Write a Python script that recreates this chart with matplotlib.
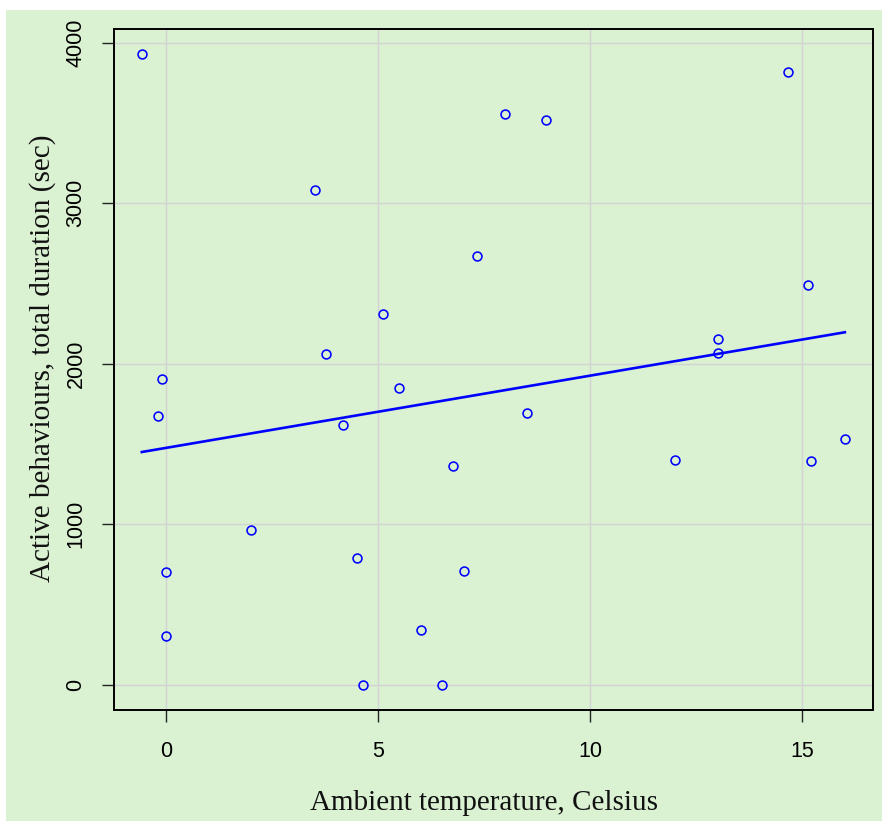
import numpy as np
import matplotlib
matplotlib.use("Agg")
import matplotlib.pyplot as plt
from matplotlib.patches import Rectangle

# Data
temperature = [-0.57, -0.09, -0.19, 0.0, 0.0, 2.01, 3.50, 3.76, 4.17, 4.50,
               4.65, 5.11, 5.49, 6.01, 6.50, 6.76, 7.02, 7.34, 7.98, 8.95,
               8.50, 11.99, 13.0, 13.0, 14.67, 15.13, 15.19, 16.0]
duration = [3929, 1907, 1676, 700, 306, 966, 3081, 2063, 1618, 787,
            0, 2311, 1847, 342, 0, 1362, 710, 2671, 3554, 3519,
            1695, 1403, 2157, 2065, 3818, 2490, 1395, 1530]
x_ticks = [0, 5, 10, 15]
y_ticks = [0, 1000, 2000, 3000, 4000]
x_label = "Ambient temperature, Celsius"
y_label = "Active behaviours, total duration (sec)"

BG = "#DAF2D2"
W, H = 882, 821
fig = plt.figure(figsize=(W / 100, H / 100), dpi=100)
fig.patch.set_facecolor("white")
fig.patches.append(Rectangle((6 / W, 0), 1 - 6 / W, 1 - 10 / H,
                             transform=fig.transFigure, facecolor=BG,
                             edgecolor="none", zorder=-10))

left, right, top, bottom = 113.7, 873, 29, 710
ax = fig.add_axes([left / W, 1 - bottom / H, (right - left) / W, (bottom - top) / H])
ax.set_facecolor(BG)

x = np.array(temperature)
y = np.array(duration)
xr = x.max() - x.min()
yr = y.max() - y.min()
ax.set_xlim(x.min() - 0.04 * xr, x.max() + 0.04 * xr)
ax.set_ylim(y.min() - 0.04 * yr, y.max() + 0.04 * yr)

ax.set_xticks(x_ticks)
ax.set_yticks(y_ticks)
ax.grid(True, color="#D3D3D3", linewidth=1.0, zorder=0)
ax.set_axisbelow(True)

ax.plot(x, y, linestyle="none", marker="o", markersize=6.4, markerfacecolor="none",
        markeredgecolor="blue", markeredgewidth=1.15, zorder=3)

slope, intercept = np.polyfit(x, y, 1)
xs = np.array([x.min(), x.max()])
ax.plot(xs, intercept + slope * xs, color="blue", linewidth=1.9, zorder=4)

for s in ax.spines.values():
    s.set_linewidth(1.4)
    s.set_color("black")

tick_font = {"family": ["Liberation Sans", "DejaVu Sans"], "size": 15.5}
ax.tick_params(axis="both", direction="out", length=8.6, width=1.0, color="#222222")
ax.tick_params(axis="x", pad=13.5)
ax.tick_params(axis="y", pad=11)
ax.set_xticklabels([str(t) for t in x_ticks], fontdict=tick_font)
ax.set_yticklabels([str(t) for t in y_ticks], fontdict=tick_font, rotation=90, va="center")

lab_font = {"family": ["Liberation Serif", "DejaVu Serif"], "size": 21, "color": "#111111"}
fig.text(484 / W, 1 - 810 / H, x_label, ha="center", va="baseline", **lab_font)
fig.text(50 / W, 1 - 358 / H, y_label, ha="center", va="baseline", rotation=90,
         rotation_mode="anchor", **lab_font)

fig.savefig("out.png", dpi=100, facecolor=fig.get_facecolor())
